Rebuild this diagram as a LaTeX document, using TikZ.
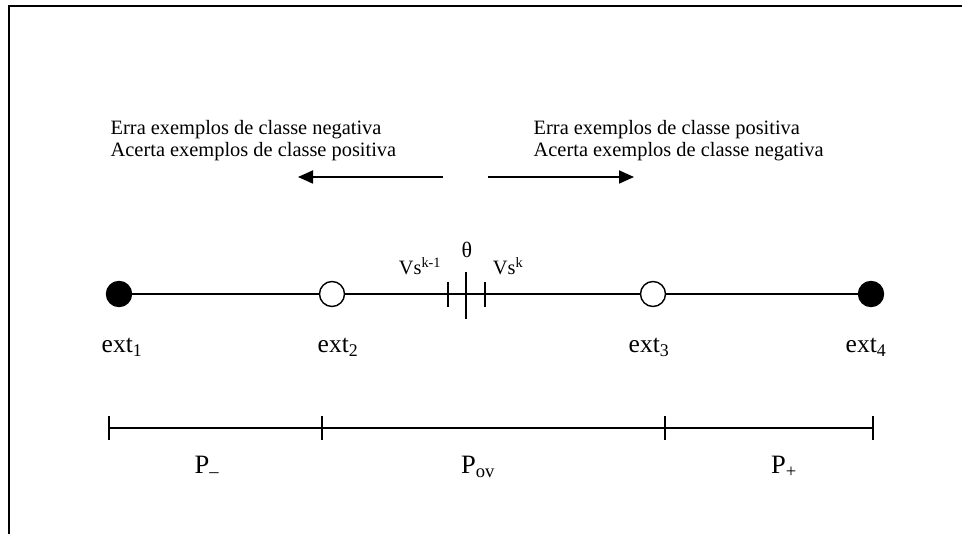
\documentclass[tikz,border=0pt]{standalone}
\usepackage{fontspec}
\setmainfont{Liberation Serif}
\usepackage{tikz}
\usetikzlibrary{arrows.meta}
\tikzset{
  closedend/.style={
    circle,
    draw,
    fill=black,
    minimum size=25pt,
    inner sep=0pt
  },
  openend/.style={
    circle,
    draw,
    fill=white,
    minimum size=25pt,
    inner sep=0pt
  },
  caption/.style={
    anchor=base west,
    inner sep=0pt,
    font=\fontsize{20.4}{22}\selectfont
  },
  marklabel/.style={
    anchor=base,
    inner sep=0pt,
    font=\fontsize{20.4}{22}\selectfont
  },
  endlabel/.style={
    anchor=base,
    inner sep=0pt,
    font=\fontsize{25.5}{28}\selectfont
  },
  partlabel/.style={
    anchor=base,
    inner sep=0pt,
    font=\fontsize{26.5}{29}\selectfont
  },
  bar/.style={
    line width=1.8pt
  }
}

\begin{document}
\begin{tikzpicture}[line width=1.4pt, x=1pt, y=-1pt]
  \useasboundingbox (0,0) rectangle (962,534);
  \draw[line width=2pt] (9,534) -- (9,6.5) -- (962,6.5);

  \node[caption] (T1) at (110,135) {Erra exemplos de classe negativa};
  \node[caption] (T2) at (110,157) {Acerta exemplos de classe positiva};
  \node[caption] (T3) at (533,135) {Erra exemplos de classe positiva};
  \node[caption] (T4) at (533,157) {Acerta exemplos de classe negativa};

  \coordinate (AL0) at (443,177);
  \coordinate (AL1) at (298,177);
  \coordinate (AR0) at (488,177);
  \coordinate (AR1) at (634,177);
  \draw[bar, -{Triangle[length=15pt,width=13pt]}] (AL0) -- (AL1);
  \draw[bar, -{Triangle[length=15pt,width=13pt]}] (AR0) -- (AR1);

  \node[closedend] (E1) at (119,294) {};
  \node[openend] (E2) at (332,294) {};
  \node[openend] (E3) at (653,294) {};
  \node[closedend] (E4) at (871,294) {};
  \draw (E1) -- (E2) -- (E3) -- (E4);

  \coordinate (K0) at (448,294);
  \coordinate (TH) at (466,294);
  \coordinate (K1) at (485,294);
  \draw[bar] (K0) ++(0,-12) -- ++(0,25);
  \draw[bar] (TH) ++(0,-22) -- ++(0,47);
  \draw[bar] (K1) ++(0,-12) -- ++(0,25);
  \node[marklabel] (V0) at (420,275) {Vs\textsuperscript{k-1}};
  \node[marklabel] (V1) at (508,275) {Vs\textsuperscript{k}};
  \node[marklabel, font=\fontsize{22}{24}\selectfont] (TT) at (467,258) {θ};

  \node[endlabel] (L1) at (122,353) {ext\textsubscript{1}};
  \node[endlabel] (L2) at (338,353) {ext\textsubscript{2}};
  \node[endlabel] (L3) at (649,353) {ext\textsubscript{3}};
  \node[endlabel] (L4) at (866,353) {ext\textsubscript{4}};

  \coordinate (S0) at (109,428);
  \coordinate (S1) at (322,428);
  \coordinate (S2) at (665,428);
  \coordinate (S3) at (873,428);
  \draw[bar] (S0) -- (S3);
  \foreach \s in {S0,S1,S2,S3}
    \draw[bar] (\s) ++(0,-12) -- ++(0,24);
  \node[partlabel] (P1) at (207,474) {P\textsubscript{--}};
  \node[partlabel] (P2) at (478,474) {P\textsubscript{ov}};
  \node[partlabel] (P3) at (784,474) {P\textsubscript{+}};
\end{tikzpicture}
\end{document}
